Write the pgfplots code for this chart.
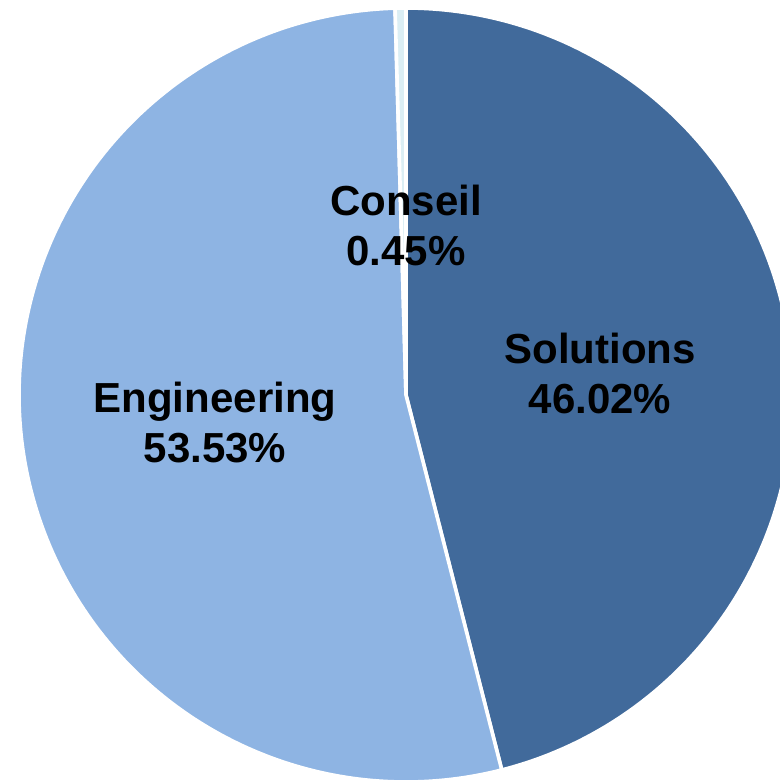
\documentclass[border=0pt]{standalone}
\usepackage{pgfplots}
\pgfplotsset{compat=1.18}
\usepackage{pgfplotstable}
\usepackage{fontspec}
\setmainfont{Liberation Sans}
\definecolor{csol}{HTML}{416A9B}
\definecolor{ceng}{HTML}{8EB4E3}
\definecolor{ccon}{HTML}{DBEEF4}
\pgfplotstableread{
name value
Solutions 46.02
Engineering 53.53
Conseil 0.45
}\piedata
\pgfplotstablegetelem{0}{value}\of\piedata \let\vSol\pgfplotsretval
\pgfplotstablegetelem{1}{value}\of\piedata \let\vEng\pgfplotsretval
\pgfplotstablegetelem{2}{value}\of\piedata \let\vCon\pgfplotsretval
\pgfmathsetmacro{\aA}{90}
\pgfmathsetmacro{\aB}{90-3.6*\vSol}
\pgfmathsetmacro{\aC}{\aB-3.6*\vEng}
\pgfmathsetmacro{\aD}{\aC-3.6*\vCon}
\def\cx{406}
\def\cy{395}
\def\rr{387}
\begin{document}
\begin{tikzpicture}
\begin{axis}[
  name=ax,
  scale only axis, width=390pt, height=390.5pt,
  xmin=0, xmax=780, ymin=0, ymax=781, y dir=reverse,
  axis lines=none, clip=true,
]
\addplot[fill=csol, draw=white, line width=1.8pt, domain=\aA:\aB, samples=200, variable=\t]
  ({\cx+\rr*cos(\t)},{\cy-\rr*sin(\t)}) -- (axis cs:\cx,\cy) -- cycle;
\addplot[fill=ceng, draw=white, line width=1.8pt, domain=\aB:\aC, samples=200, variable=\t]
  ({\cx+\rr*cos(\t)},{\cy-\rr*sin(\t)}) -- (axis cs:\cx,\cy) -- cycle;
\addplot[fill=ccon, draw=white, line width=1.8pt, domain=\aC:\aD, samples=10, variable=\t]
  ({\cx+\rr*cos(\t)},{\cy-\rr*sin(\t)}) -- (axis cs:\cx,\cy) -- cycle;
\node[font=\fontsize{21pt}{25pt}\selectfont\bfseries, align=center] at (axis cs:406,225) {Conseil\\0.45\%};
\node[font=\fontsize{21pt}{25pt}\selectfont\bfseries, align=center] at (axis cs:600,373) {Solutions\\46.02\%};
\node[font=\fontsize{21pt}{25pt}\selectfont\bfseries, align=center] at (axis cs:215,423) {Engineering\\53.53\%};
\end{axis}
\pgfresetboundingbox
\path[use as bounding box] (ax.south west) rectangle (ax.north east);
\end{tikzpicture}
\end{document}
